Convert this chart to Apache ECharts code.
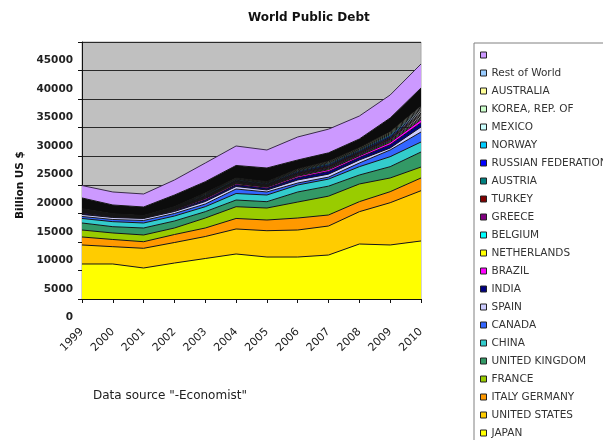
<!DOCTYPE html>
<html>
<head>
<meta charset="utf-8">
<script src="https://cdn.jsdelivr.net/npm/echarts@6/dist/echarts.min.js"></script>
<style>
  html, body { margin: 0; padding: 0; background: #ffffff; }
  #chart { width: 603px; height: 440px; }
</style>
</head>
<body>
<div id="chart"></div>
<script>
// Years on the category axis
const years = ['1999', '2000', '2001', '2002', '2003', '2004', '2005', '2006', '2007', '2008', '2009', '2010'];

// Public debt by country, billion US $ (stacked from JAPAN upwards)
const japan          = [6130, 6130, 5430, 6300, 7090, 7880, 7350, 7350, 7700, 9630, 9460, 10160];
const unitedStates   = [3330, 3030, 3450, 3590, 3850, 4380, 4610, 4730, 5080, 5660, 7400, 8800];
const italyGermany   = [1400, 1260, 1150, 1400, 1490, 1840, 1870, 2100, 1930, 1750, 1930, 2230];
const france         = [1220, 1140, 1180, 1140, 1750, 2060, 2100, 2800, 3300, 3100, 2400, 1920];
const unitedKingdom  = [1230, 1100, 1220, 1230, 1110, 1170, 1110, 1760, 1750, 1570, 1980, 2630];
const china          = [790, 880, 880, 870, 870, 1140, 1170, 1220, 1230, 1460, 1750, 1750];
const canada         = [350, 380, 440, 440, 470, 790, 530, 350, 350, 640, 1170, 1750];
const spain          = [350, 350, 350, 350, 440, 440, 350, 530, 520, 530, 350, 880];
const india          = [200, 130, 100, 170, 300, 300, 290, 390, 460, 430, 570, 740];
const brazil         = [140, 90, 70, 120, 210, 200, 200, 270, 320, 300, 400, 520];
const netherlands    = [60, 40, 30, 50, 90, 90, 90, 120, 140, 130, 170, 220];
const belgium        = [60, 40, 30, 50, 90, 90, 90, 110, 130, 130, 170, 220];
const greece         = [80, 50, 40, 70, 120, 120, 120, 150, 180, 170, 230, 290];
const turkey         = [60, 40, 30, 50, 90, 90, 90, 120, 140, 130, 170, 220];
const austria        = [60, 40, 30, 50, 90, 90, 90, 110, 140, 130, 170, 220];
const russia         = [80, 50, 40, 70, 120, 120, 110, 160, 180, 170, 230, 290];
const norway         = [80, 50, 40, 70, 120, 120, 120, 150, 180, 170, 230, 290];
const mexico         = [60, 40, 30, 50, 90, 90, 80, 120, 140, 130, 170, 220];
const korea          = [60, 40, 30, 50, 90, 90, 90, 110, 130, 130, 170, 220];
const australia      = [60, 40, 30, 50, 90, 90, 80, 120, 140, 140, 170, 220];
const restOfWorld    = [1890, 1540, 1510, 2040, 1970, 2190, 2400, 1570, 1450, 1520, 2400, 3160];
const unlabelled     = [2180, 2280, 2280, 2630, 3270, 3410, 3150, 4030, 4150, 4020, 4030, 4200];

// Series names, bottom of the stack first
const seriesNames = ['JAPAN', 'UNITED STATES', 'ITALY GERMANY', 'FRANCE', 'UNITED KINGDOM', 'CHINA',
  'CANADA', 'SPAIN', 'INDIA', 'BRAZIL', 'NETHERLANDS', 'BELGIUM', 'GREECE', 'TURKEY', 'AUSTRIA',
  'RUSSIAN FEDERATION', 'NORWAY', 'MEXICO', 'KOREA, REP. OF', 'AUSTRALIA', 'Rest of World', ' '];
const seriesValues = [japan, unitedStates, italyGermany, france, unitedKingdom, china, canada, spain,
  india, brazil, netherlands, belgium, greece, turkey, austria, russia, norway, mexico, korea,
  australia, restOfWorld, unlabelled];
// Legend swatch colours
const seriesColors = ['#ffff00', '#ffcc00', '#ff9900', '#99cc00', '#339966', '#33cccc', '#3366ff',
  '#ccccff', '#000080', '#ff00ff', '#ffff00', '#00ffff', '#800080', '#800000', '#008080', '#0000ff',
  '#00ccff', '#ccffff', '#ccffcc', '#ffff99', '#99ccff', '#cc99ff'];
// Area fills (the rest-of-world band prints almost black)
const areaColors = seriesColors.slice();
areaColors[20] = '#0c0c0c';

const chart = echarts.init(document.getElementById('chart'), null, { renderer: 'canvas' });

const series = seriesNames.map((name, i) => ({
  name: name,
  type: 'line',
  stack: 'debt',
  data: seriesValues[i],
  symbol: 'none',
  showSymbol: false,
  itemStyle: { color: seriesColors[i] },
  lineStyle: { color: i === seriesNames.length - 1 ? '#3a2b4a' : '#151515', width: 1 },
  areaStyle: { color: areaColors[i], opacity: 1 },
  emphasis: { disabled: true }
}));

// Legend reads top to bottom, opposite to the stacking order
const legendData = seriesNames.map((name, i) => ({
  name: name,
  itemStyle: { color: seriesColors[i], borderColor: '#222', borderWidth: 1 }
})).reverse();

chart.setOption({
  animation: false,
  backgroundColor: '#ffffff',
  title: {
    text: 'World Public Debt',
    left: 248,
    top: 12,
    padding: 0,
    textStyle: { fontFamily: 'DejaVu Sans', fontWeight: 'bold', fontSize: 12, color: '#111' }
  },
  grid: {
    left: 82, right: 182, top: 42, bottom: 141,
    show: true,
    backgroundColor: '#c0c0c0',
    borderColor: '#a8a8a8',
    borderWidth: 1
  },
  legend: {
    orient: 'vertical',
    left: 480,
    top: 49,
    padding: 0,
    itemWidth: 6,
    itemHeight: 6,
    itemGap: 6,
    icon: 'rect',
    selectedMode: false,
    textStyle: { fontFamily: 'DejaVu Sans', fontSize: 10.5, color: '#333', lineHeight: 12 },
    data: legendData
  },
  xAxis: {
    type: 'category',
    data: years,
    boundaryGap: false,
    axisLine: { lineStyle: { color: '#111', width: 1 } },
    axisTick: { show: true, length: 4, lineStyle: { color: '#111' } },
    axisLabel: {
      interval: 0, rotate: 45, margin: 31,
      fontFamily: 'DejaVu Sans', fontSize: 11, color: '#222'
    },
    splitLine: { show: false }
  },
  yAxis: {
    type: 'value',
    min: 0, max: 45000, interval: 5000,
    axisLine: { show: true, lineStyle: { color: '#111', width: 1 } },
    axisTick: { show: true, length: 4, lineStyle: { color: '#111' } },
    axisLabel: {
      margin: 9,
      // the tick labels sit one line below their gridlines
      verticalAlign: 'top',
      lineHeight: 12.3,
      showMinLabel: true,
      showMaxLabel: true,
      formatter: function (v) { return '\n' + v; },
      fontFamily: 'DejaVu Sans', fontWeight: 'bold', fontSize: 10.5, color: '#222'
    },
    splitLine: { show: true, lineStyle: { color: '#2a2a2a', width: 1 } }
  },
  graphic: [
    {
      type: 'rect', z: 0,
      shape: { x: 474, y: 43, width: 200, height: 420 },
      style: { fill: '#ffffff', stroke: '#808080', lineWidth: 1 }
    },
    {
      type: 'text', z: 5,
      x: 20, y: 185, rotation: Math.PI / 2,
      style: {
        text: 'Billion US $', align: 'center', verticalAlign: 'middle',
        font: 'bold 10.5px "DejaVu Sans"', fill: '#111'
      }
    },
    {
      type: 'text', z: 5,
      x: 93, y: 396,
      style: {
        text: 'Data source "-Economist"', align: 'left', verticalAlign: 'middle',
        font: '12px "DejaVu Sans"', fill: '#222'
      }
    }
  ],
  series: series
});
</script>
</body>
</html>
